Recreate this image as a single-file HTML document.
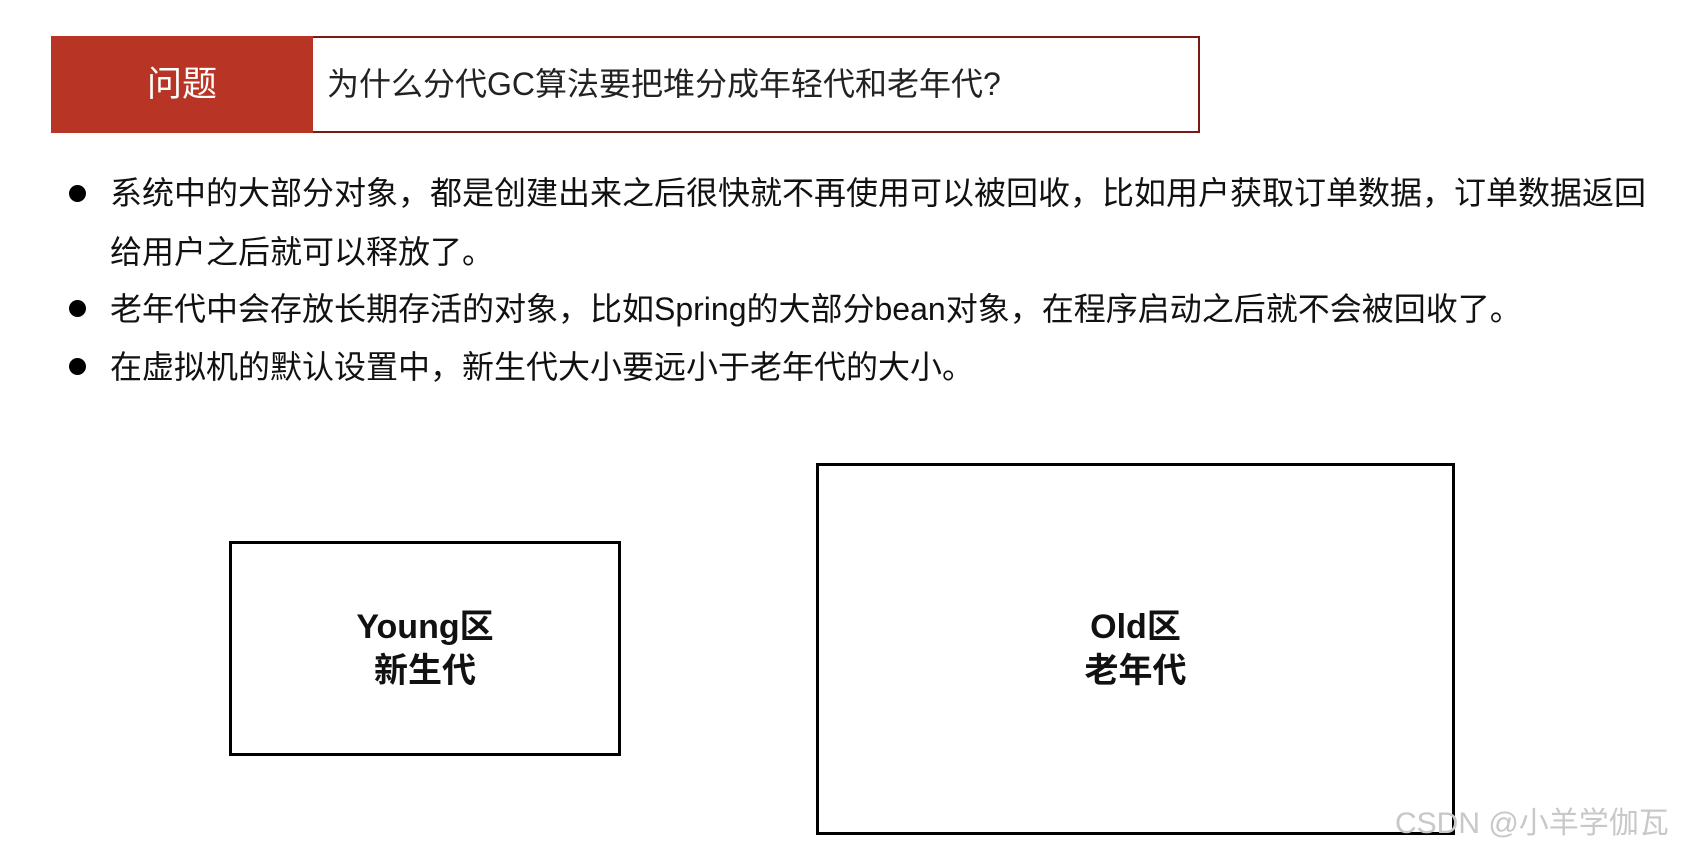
<!DOCTYPE html>
<html><head><meta charset="utf-8"><style>
body{margin:0;width:1683px;height:849px;background:#fff;position:relative;overflow:hidden;font-family:"Liberation Sans","Noto Sans CJK SC",sans-serif;}
.a{position:absolute;}
.red{left:51px;top:36px;width:262px;height:97px;background:#b83525;color:#fff;font-size:35px;line-height:97px;text-align:center;}
.hdr{left:313px;top:36px;width:887px;height:97px;border:2px solid #7a1a12;border-left:none;font-size:32px;line-height:93px;color:#222;padding-left:14px;box-sizing:border-box;}
.t{font-size:32px;color:#111;left:110px;white-space:nowrap;line-height:40px;}
.dot{width:17px;height:17px;border-radius:50%;background:#000;left:69px;}
.box{border:3px solid #000;box-sizing:border-box;display:flex;align-items:center;justify-content:center;text-align:center;font-weight:bold;font-size:34px;line-height:44px;color:#111;}
</style></head><body>
<div class="a red">问题</div>
<div class="a hdr">为什么分代GC算法要把堆分成年轻代和老年代?</div>
<div class="a dot" style="top:185px"></div>
<div class="a t" style="top:173px">系统中的大部分对象，都是创建出来之后很快就不再使用可以被回收，比如用户获取订单数据，订单数据返回</div>
<div class="a t" style="top:232px">给用户之后就可以释放了。</div>
<div class="a dot" style="top:300px"></div>
<div class="a t" style="top:289px">老年代中会存放长期存活的对象，比如Spring的大部分bean对象，在程序启动之后就不会被回收了。</div>
<div class="a dot" style="top:358px"></div>
<div class="a t" style="top:347px">在虚拟机的默认设置中，新生代大小要远小于老年代的大小。</div>
<div class="a box" style="left:229px;top:541px;width:392px;height:215px">Young区<br>新生代</div>
<div class="a box" style="left:816px;top:463px;width:639px;height:372px">Old区<br>老年代</div>
<div class="a" style="left:1395px;top:798px;font-size:30px;color:#c8c8c8;white-space:nowrap">CSDN @小羊学伽瓦</div>
</body></html>
